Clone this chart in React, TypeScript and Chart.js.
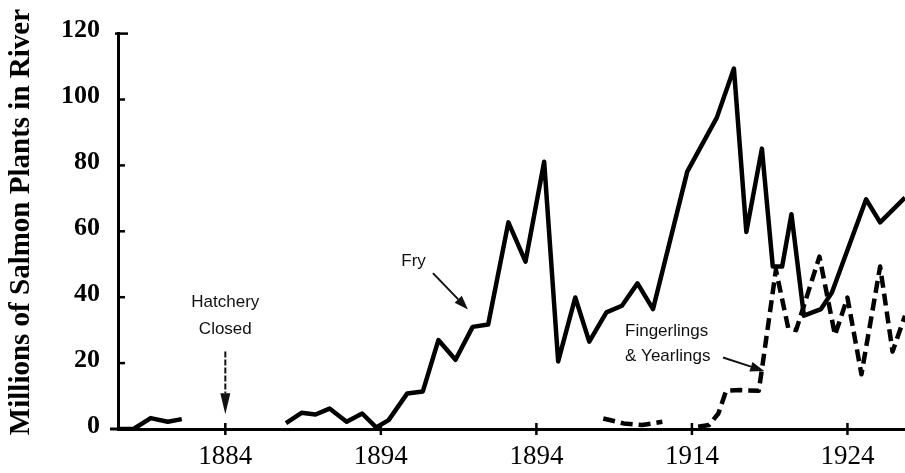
import React, { useEffect, useRef } from "react";
import { Chart, registerables } from "chart.js";

Chart.register(...registerables);

// ---- Data ----
const FRY_YEARS = [
  1877.1, 1878.1, 1879.2, 1880.3, 1881.2, 1884.5, 1887.9, 1888.9, 1889.8, 1890.7,
  1891.8, 1892.8, 1893.7, 1894.5, 1895.7, 1896.7, 1897.7, 1898.8, 1899.9, 1900.9,
  1902.2, 1903.3, 1904.5, 1905.4, 1906.5, 1907.4, 1908.5, 1909.5, 1910.5, 1911.5,
  1913.7, 1915.6, 1916.7, 1917.5, 1918.5, 1919.2, 1919.8, 1920.4, 1921.2, 1922.3,
  1923.0, 1925.2, 1926.1, 1927.7,
];
const FRY_VALUES: (number | null)[] = [
  0, 0, 3.3, 2.2, 3.0, null, 1.8, 4.9, 4.4, 6.2,
  2.2, 4.7, 0.5, 2.7, 10.8, 11.4, 27, 21, 31, 31.7,
  62.7, 50.8, 81.1, 20.5, 39.9, 26.5, 35.4, 37.4, 44.2, 36.4,
  78.1, 94.5, 109.4, 59.8, 85.1, 49.3, 49.3, 65.2, 34.4, 36.4,
  41.4, 69.7, 62.7, 70.2,
];

const FING_YEARS = [
  1908.3, 1909.6, 1910.8, 1912.1, 1913.2, 1914.4, 1915.1, 1915.7, 1916.2, 1917.1,
  1918.3, 1918.5, 1919.4, 1920.2, 1920.7, 1922.2, 1923.2, 1924.0, 1924.9, 1926.1,
  1926.9, 1927.7,
];
const FING_VALUES: (number | null)[] = [
  3.2, 1.7, 1.2, 2.2, null, 0.7, 1.2, 4.7, 11.6, 11.8,
  11.6, 18.1, 48.3, 30.5, 30.0, 52.3, 28.5, 39.9, 16.6, 49.3,
  23.5, 34.4,
];

const X_TICK_YEARS = [1884, 1894, 1904, 1914, 1924];
const X_TICK_LABELS = ["1884", "1894", "1894", "1914", "1924"];
const Y_TICKS = [0, 20, 40, 60, 80, 100, 120];
const Y_TITLE = "Millions of Salmon Plants in River";

// annotation anchors (data units)
const HATCHERY_TEXT = ["Hatchery", "Closed"];
const HATCHERY_POS = { year: 1884, line1: 38.4, line2: 30.4, arrowFrom: 23.5, arrowTo: 4.5 };
const FRY_TEXT = "Fry";
const FRY_POS = { year: 1896.1, value: 50.9, ax1: 1897.35, ay1: 47.3, ax2: 1899.6, ay2: 36.3 };
const FING_TEXT = ["Fingerlings", "& Yearlings"];
const FING_POS = { year: 1909.7, line1: 29.5, line2: 22.0, ax1: 1916.0, ay1: 21.7, ax2: 1918.65, ay2: 17.6 };
const TITLE_CENTER_VALUE = 62.8; // vertical centre of the rotated axis title, in data units

function drawArrow(
  ctx: CanvasRenderingContext2D,
  x1: number, y1: number, x2: number, y2: number,
  dash: number[], width: number, headLen: number, headHalf: number
) {
  const ang = Math.atan2(y2 - y1, x2 - x1);
  const bx = x2 - headLen * Math.cos(ang);
  const by = y2 - headLen * Math.sin(ang);
  ctx.save();
  ctx.setLineDash(dash);
  ctx.lineWidth = width;
  ctx.beginPath();
  ctx.moveTo(x1, y1);
  ctx.lineTo(bx, by);
  ctx.stroke();
  ctx.setLineDash([]);
  ctx.beginPath();
  ctx.moveTo(x2, y2);
  ctx.lineTo(bx + headHalf * Math.sin(ang), by - headHalf * Math.cos(ang));
  ctx.lineTo(bx - headHalf * Math.sin(ang), by + headHalf * Math.cos(ang));
  ctx.closePath();
  ctx.fill();
  ctx.restore();
}

const decorPlugin = {
  id: "decor",
  afterDraw(chart: any) {
    const { ctx, chartArea } = chart;
    const xs = chart.scales.x;
    const ys = chart.scales.y;
    ctx.save();
    ctx.strokeStyle = "#000";
    ctx.fillStyle = "#000";
    ctx.lineWidth = 2.5;
    // y tick marks (inward)
    Y_TICKS.forEach((v) => {
      if (v === 0) return;
      const py = ys.getPixelForValue(v);
      ctx.beginPath();
      ctx.moveTo(chartArea.left - (v === 120 ? 3 : 1), py);
      ctx.lineTo(chartArea.left + (v === 120 ? 10 : 7), py);
      ctx.stroke();
    });
    // x tick marks (crossing)
    X_TICK_YEARS.forEach((v) => {
      const px = xs.getPixelForValue(v);
      ctx.beginPath();
      ctx.moveTo(px, chartArea.bottom - 6);
      ctx.lineTo(px, chartArea.bottom + 6);
      ctx.stroke();
    });
    // x axis extends a little left of the y axis
    ctx.lineWidth = 3;
    ctx.beginPath();
    ctx.moveTo(chartArea.left - 8, ys.getPixelForValue(0));
    ctx.lineTo(chartArea.left, ys.getPixelForValue(0));
    ctx.stroke();

    // rotated y-axis title
    ctx.save();
    ctx.translate(ys.left + 22, ys.getPixelForValue(TITLE_CENTER_VALUE));
    ctx.rotate(-Math.PI / 2);
    ctx.font = 'bold 29px "Liberation Serif"';
    ctx.textAlign = "center";
    ctx.textBaseline = "middle";
    ctx.fillStyle = "#000";
    ctx.fillText(Y_TITLE, 0, 0);
    ctx.restore();

    // annotations
    ctx.font = '17px "Liberation Sans"';
    ctx.fillStyle = "#111";
    ctx.strokeStyle = "#111";
    ctx.textBaseline = "middle";

    // Hatchery Closed
    ctx.textAlign = "center";
    const hx = xs.getPixelForValue(HATCHERY_POS.year);
    ctx.fillText(HATCHERY_TEXT[0], hx, ys.getPixelForValue(HATCHERY_POS.line1));
    ctx.fillText(HATCHERY_TEXT[1], hx, ys.getPixelForValue(HATCHERY_POS.line2));
    drawArrow(
      ctx, hx, ys.getPixelForValue(HATCHERY_POS.arrowFrom), hx, ys.getPixelForValue(HATCHERY_POS.arrowTo),
      [6, 2], 2, 21, 5
    );

    // Fry
    ctx.fillText(FRY_TEXT, xs.getPixelForValue(FRY_POS.year), ys.getPixelForValue(FRY_POS.value));
    drawArrow(
      ctx,
      xs.getPixelForValue(FRY_POS.ax1), ys.getPixelForValue(FRY_POS.ay1),
      xs.getPixelForValue(FRY_POS.ax2), ys.getPixelForValue(FRY_POS.ay2),
      [], 2, 14, 5
    );

    // Fingerlings & Yearlings
    ctx.textAlign = "left";
    const fx = xs.getPixelForValue(FING_POS.year);
    ctx.fillText(FING_TEXT[0], fx, ys.getPixelForValue(FING_POS.line1));
    ctx.fillText(FING_TEXT[1], fx, ys.getPixelForValue(FING_POS.line2));
    drawArrow(
      ctx,
      xs.getPixelForValue(FING_POS.ax1), ys.getPixelForValue(FING_POS.ay1),
      xs.getPixelForValue(FING_POS.ax2), ys.getPixelForValue(FING_POS.ay2),
      [], 2, 14, 5
    );
    ctx.restore();
  },
};

export default function App() {
  const canvasRef = useRef<HTMLCanvasElement | null>(null);

  useEffect(() => {
    document.body.style.margin = "0";
    document.body.style.background = "#fff";
    const canvas = canvasRef.current;
    if (!canvas) return;

    const fryData = FRY_YEARS.map((x, i) => ({ x, y: FRY_VALUES[i] }));
    const fingData = FING_YEARS.map((x, i) => ({ x, y: FING_VALUES[i] }));

    const chart = new Chart(canvas, {
      type: "line",
      data: {
        datasets: [
          {
            label: "Fry",
            data: fryData as any,
            borderColor: "#000",
            borderWidth: 4.5,
            pointRadius: 0,
            tension: 0,
            spanGaps: false,
            borderJoinStyle: "round",
            borderCapStyle: "butt",
          },
          {
            label: "Fingerlings & Yearlings",
            data: fingData as any,
            borderColor: "#000",
            borderWidth: 4.5,
            borderDash: [12, 6],
            pointRadius: 0,
            tension: 0,
            spanGaps: false,
            borderJoinStyle: "round",
            borderCapStyle: "butt",
          },
        ],
      },
      options: {
        animation: false,
        responsive: false,
        maintainAspectRatio: false,
        layout: { padding: { top: 26, left: 0, right: 0, bottom: 0 } },
        plugins: {
          legend: { display: false },
          tooltip: { enabled: false },
        },
        scales: {
          x: {
            type: "linear",
            min: 1877.1,
            max: 1927.7,
            grid: { display: false, drawTicks: false },
            border: { display: true, color: "#000", width: 3 },
            afterBuildTicks: (scale: any) => {
              scale.ticks = X_TICK_YEARS.map((v) => ({ value: v }));
            },
            afterFit: (scale: any) => {
              scale.height = 44;
            },
            ticks: {
              autoSkip: false,
              maxRotation: 0,
              padding: 12,
              color: "#000",
              font: { family: "Liberation Serif", size: 27 },
              callback: (value: any) => {
                const idx = X_TICK_YEARS.indexOf(Number(value));
                return idx >= 0 ? X_TICK_LABELS[idx] : "";
              },
            },
          },
          y: {
            type: "linear",
            min: 0,
            max: 120,
            grid: { display: false, drawTicks: false },
            border: { display: true, color: "#000", width: 3 },
            afterBuildTicks: (scale: any) => {
              scale.ticks = Y_TICKS.map((v) => ({ value: v }));
            },
            afterFit: (scale: any) => {
              scale.width = 118;
            },
            ticks: {
              padding: 18,
              labelOffset: -3,
              color: "#000",
              font: { family: "Liberation Serif", size: 26, weight: "bold" },
            },
            title: { display: false },
          },
        },
      },
      plugins: [decorPlugin],
    });

    return () => {
      chart.destroy();
    };
  }, []);

  return (
    <div style={{ width: 905, height: 473, background: "#fff" }}>
      <canvas ref={canvasRef} width={905} height={473} style={{ display: "block" }} />
    </div>
  );
}
